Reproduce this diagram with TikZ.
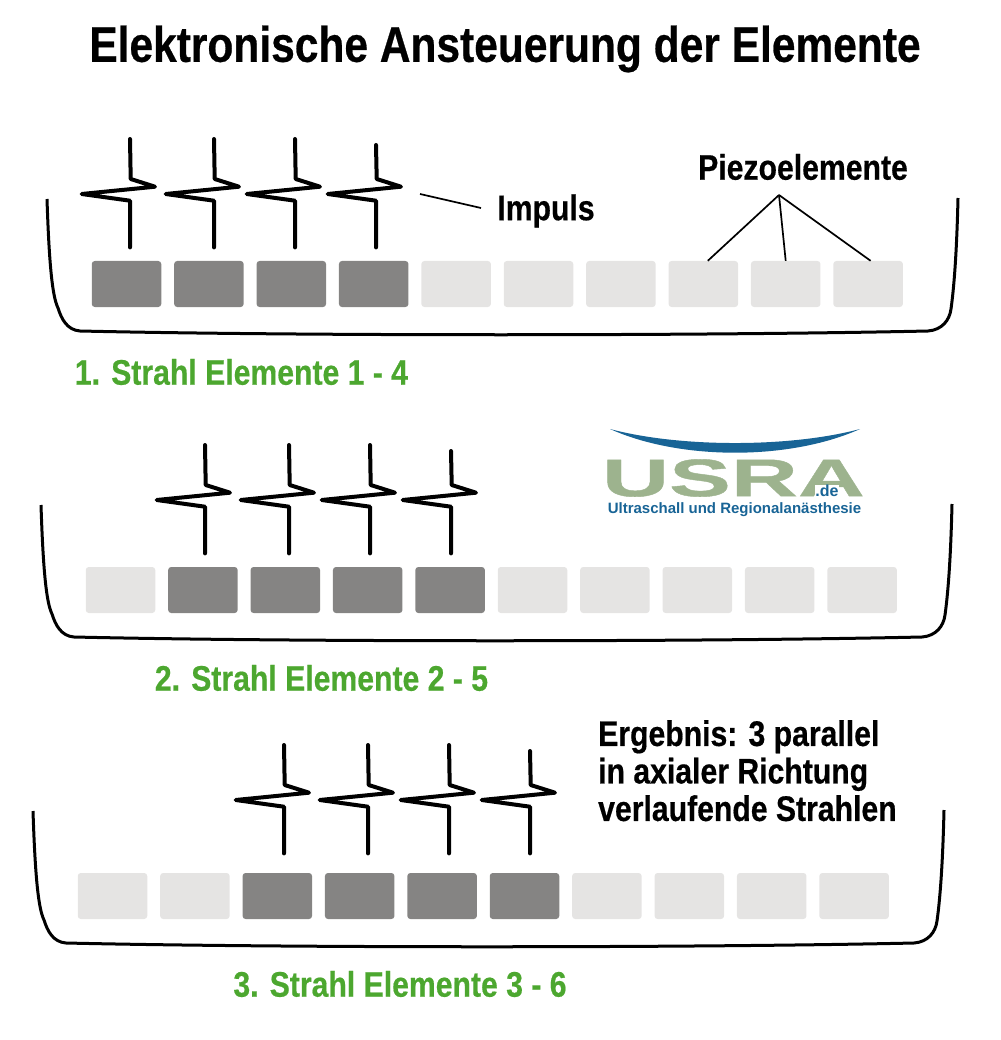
\documentclass[tikz,border=0pt]{standalone}
\usepackage{fontspec}
\setmainfont{Liberation Sans}[BoldFont=* Bold]
\newfontfamily\narrowfont{Liberation Sans Bold}[FakeStretch=0.85, FakeBold=0.5]
\newfontfamily\logofont{Liberation Sans Bold}[FakeStretch=1.75, FakeBold=0.8]
\usepackage{tikz}
\usetikzlibrary{positioning}
\definecolor{AccentGreen}{RGB}{76, 167, 47}
\definecolor{PiezoDark}{RGB}{133, 132, 131}
\definecolor{PiezoLight}{RGB}{229, 228, 227}
\definecolor{LogoGreen}{RGB}{157, 179, 142}
\definecolor{LogoBlue}{RGB}{24, 100, 150}

\tikzset{
  piezo/.style={minimum width=69.5pt, minimum height=46pt, inner sep=0pt, rounded corners=3pt, fill=PiezoLight},
  piezoon/.style={piezo, fill=PiezoDark},
  heading/.style={font=\narrowfont\fontsize{35.5}{40}\selectfont, inner sep=0pt},
  strahl/.style={heading, text=AccentGreen},
  lead/.style={black, line width=1.7pt}
}

% bowl of one array, shifted by x and y
\newcommand{\bowl}[2]{
  \draw[line width=3pt, shift={(#1,#2)}] (47,199) .. controls (49,260) and (52,296) .. (58,308)
    .. controls (61.5,319) and (67,330) .. (80,331) .. controls (300,336) and (700,336) .. (928,331)
    .. controls (942,330) and (949.6,320) .. (951,309) .. controls (955,280) and (957,240) .. (958,198);
}
% one pulse, x and y of the top, then how much shorter the top stroke is
\newcommand{\impuls}[3]{
  \draw[line width=4pt, line join=round, line cap=round, shift={(#1,#2)}] (0,#3) -- (0.7,40) -- (25,47.7)
    -- (-48.3,55) -- (0,61.7) -- (0,108.4);
}

\begin{document}
\begin{tikzpicture}[x=1pt, y=-1pt]
    \useasboundingbox (0,0) rectangle (1000,1040);

    % Title
    \node[heading, font=\narrowfont\fontsize{50}{56}\selectfont] (title) at (505,49) {Elektronische Ansteuerung der Elemente};

    % First row
    \bowl{0}{0}
    \foreach \i in {1,...,10} {
      \ifnum\i<5 \node[piezoon] (a\i) at ({126.5+82.4*(\i-1)},284) {};
      \else \node[piezo] (a\i) at ({126.5+82.4*(\i-1)},284) {}; \fi
    }
    \foreach \xpos/\cut in {130/0, 214/0, 295/0, 376/6} { \impuls{\xpos}{139}{\cut} }
    \node[strahl] (labela) at (241.5,372) {1. Strahl Elemente 1 - 4};

    % Labels of the first row
    \node[heading] (impuls) at (546,211) {Impuls};
    \node[heading] (piezolabel) at (803,167) {Piezoelemente};
    \coordinate (impulsstart) at (420,194);
    \coordinate (impulsend) at (481,208);
    \coordinate (apex) at (779,195);
    \draw[lead] (impulsstart) -- (impulsend);
    \draw[lead] (apex) -- ([xshift=4.5pt]a8.north);
    \draw[lead] (apex) -- (a9.north);
    \draw[lead] (apex) -- ([xshift=2.5pt]a10.north);

    % Second row
    \bowl{-6}{306}
    \foreach \i in {1,...,10} {
      \ifnum\i>1 \ifnum\i<6 \node[piezoon] (b\i) at ({120.5+82.4*(\i-1)},590) {};
      \else \node[piezo] (b\i) at ({120.5+82.4*(\i-1)},590) {}; \fi
      \else \node[piezo] (b\i) at ({120.5+82.4*(\i-1)},590) {}; \fi
    }
    \foreach \xpos/\cut in {205/0, 289/0, 370/0, 451/6} { \impuls{\xpos}{445}{\cut} }
    \node[strahl] (labelb) at (321.5,678) {2. Strahl Elemente 2 - 5};

    % Logo
    \fill[LogoBlue] (610,429) .. controls (680,447.7) and (790,447.7) .. (860,429)
      .. controls (790,460.6) and (680,460.6) .. (610,429);
    \node[font=\logofont\fontsize{53}{56}\selectfont, text=LogoGreen, inner sep=0pt] (logo) at (733.5,478) {USRA};
    \node[font=\bfseries\fontsize{16}{16}\selectfont, text=LogoBlue, fill=white, inner sep=0.5pt] (logode) at (827,491) {.de};
    \node[font=\bfseries\fontsize{15}{15}\selectfont, text=LogoBlue, inner sep=0pt] (logotext) at (734.5,510) {Ultraschall und Regionalanästhesie};

    % Third row
    \bowl{-14}{612}
    \foreach \i in {1,...,10} {
      \ifnum\i>2 \ifnum\i<7 \node[piezoon] (c\i) at ({112.5+82.4*(\i-1)},896) {};
      \else \node[piezo] (c\i) at ({112.5+82.4*(\i-1)},896) {}; \fi
      \else \node[piezo] (c\i) at ({112.5+82.4*(\i-1)},896) {}; \fi
    }
    \foreach \xpos/\cut in {284/0, 368/0, 449/0, 530/6} { \impuls{\xpos}{745}{\cut} }
    \node[strahl] (labelc) at (400,984) {3. Strahl Elemente 3 - 6};

    % Result
    \node[heading, align=left, anchor=north west, font=\narrowfont\fontsize{35.5}{37.5}\selectfont] (result) at (598,720) {Ergebnis: 3 parallel\\in axialer Richtung\\verlaufende Strahlen};
\end{tikzpicture}
\end{document}
